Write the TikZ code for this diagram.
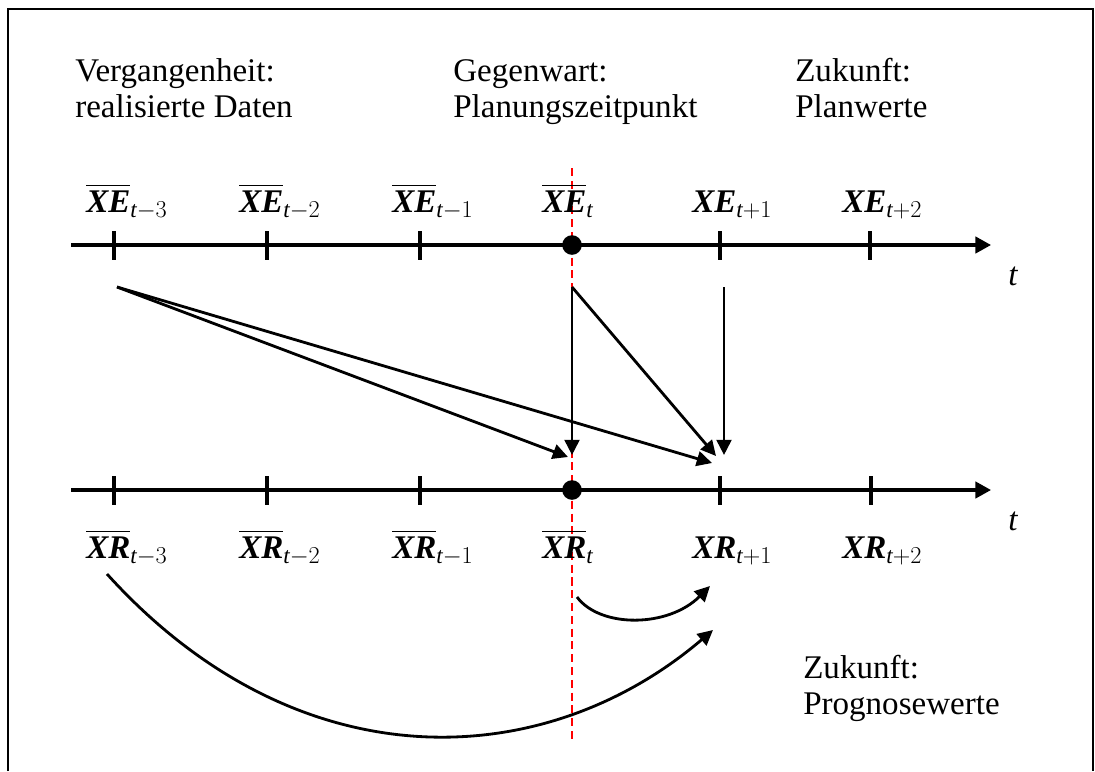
\documentclass[tikz,border=0pt]{standalone}
\usepackage{amsmath}
\usepackage{fontspec}
\setmainfont{Liberation Serif}
\usetikzlibrary{arrows.meta, positioning}
\definecolor{AxisBlack}{HTML}{000000}
\definecolor{NowRed}{HTML}{FF0000}
\newcommand{\pastval}[2]{$\overline{\text{\bfseries\itshape #1}}_{\text{\itshape t}#2}$}
\newcommand{\futval}[2]{$\text{\bfseries\itshape #1}_{\text{\itshape t}#2}$}

\begin{document}
\begin{tikzpicture}[
  x=0.025cm, y=-0.025cm,
  every node/.style={font=\fontsize{23.5}{25}\selectfont},
  frameline/.style={draw=AxisBlack, line width=2pt},
  axis/.style={-{Triangle[length=3.9mm,width=4.1mm]}, draw=AxisBlack,
               line width=2.2pt},
  tickmark/.style={draw=AxisBlack, line width=2.2pt},
  nowline/.style={draw=NowRed, line width=2pt,
                  dash pattern=on 5.7pt off 3.4pt},
  nowdot/.style={circle, fill=AxisBlack, minimum size=0.49cm, inner sep=0pt},
  flowarr/.style={-{Triangle[length=3.8mm,width=3.7mm]}, draw=AxisBlack,
                  line width=2pt},
  txt/.style={anchor=base west, align=left, inner sep=0pt},
  vallbl/.style={anchor=base west, inner sep=0pt}
]
\useasboundingbox (0,0) rectangle (1095,771);
\draw[frameline] (8,771) -- (8,9) -- (1093,9) -- (1093,771);

\node[txt] (past)   at (75,117)  {Vergangenheit:\\realisierte Daten};
\node[txt] (now)    at (453,117) {Gegenwart:\\Planungszeitpunkt};
\node[txt] (future) at (795,117) {Zukunft:\\Planwerte};
\node[txt] (prog)   at (803,714) {Zukunft:\\Prognosewerte};

\coordinate (nowTop) at (572,168);
\coordinate (nowBot) at (572,740);
\draw[nowline] (nowTop) -- (nowBot);

% upper axis: plan values
\coordinate (eStart) at (71,245);
\coordinate (eEnd)   at (991,245);
\draw[axis] (eStart) -- (eEnd);
\foreach \x in {114,267,420,720,870}
  \draw[tickmark] (\x,231) -- (\x,260);
\node[nowdot] (dotE) at (572,245) {};
\node[anchor=base] (tE) at (1013,285) {\itshape t};

\node[vallbl] (xe3) at (86,212)  {\pastval{XE}{-3}};
\node[vallbl] (xe2) at (239,212) {\pastval{XE}{-2}};
\node[vallbl] (xe1) at (392,212) {\pastval{XE}{-1}};
\node[vallbl] (xe0) at (542,212) {\pastval{XE}{}};
\node[vallbl] (xf1) at (692,212) {\futval{XE}{+1}};
\node[vallbl] (xf2) at (842,212) {\futval{XE}{+2}};

% lower axis: forecast values
\coordinate (rStart) at (71,490);
\coordinate (rEnd)   at (991,490);
\draw[axis] (rStart) -- (rEnd);
\foreach \x in {114,267,420,720,871}
  \draw[tickmark] (\x,476) -- (\x,505);
\node[nowdot] (dotR) at (572,490) {};
\node[anchor=base] (tR) at (1013,530) {\itshape t};

\node[vallbl] (xr3) at (86,558)  {\pastval{XR}{-3}};
\node[vallbl] (xr2) at (239,558) {\pastval{XR}{-2}};
\node[vallbl] (xr1) at (392,558) {\pastval{XR}{-1}};
\node[vallbl] (xr0) at (542,558) {\pastval{XR}{}};
\node[vallbl] (xg1) at (692,558) {\futval{XR}{+1}};
\node[vallbl] (xg2) at (842,558) {\futval{XR}{+2}};

\coordinate (sPast) at (117,287);
\coordinate (sNow)  at (572,287);
\coordinate (sNext) at (724,287);
\coordinate (eNow)  at (572,455);
\coordinate (eNowL) at (568,457);
\coordinate (eNext) at (724,455);
\coordinate (eNextA) at (716,456);
\coordinate (eNextB) at (712,463);

\draw[flowarr] (sPast) -- (eNowL);
\draw[flowarr] (sPast) -- (eNextB);
\draw[flowarr] (sNow) -- (eNow);
\draw[flowarr] (sNow) -- (eNextA);
\draw[flowarr] (sNext) -- (eNext);

\coordinate (cNowS)  at (577,597);
\coordinate (cNowE)  at (710,586);
\coordinate (cPastS) at (107,574);
\coordinate (cPastE) at (713,630);
\draw[flowarr] (cNowS) .. controls (600,628) and (668,628) .. (cNowE);
\draw[flowarr] (cPastS) .. controls (297,784) and (543,775) .. (cPastE);

\end{tikzpicture}
\end{document}
